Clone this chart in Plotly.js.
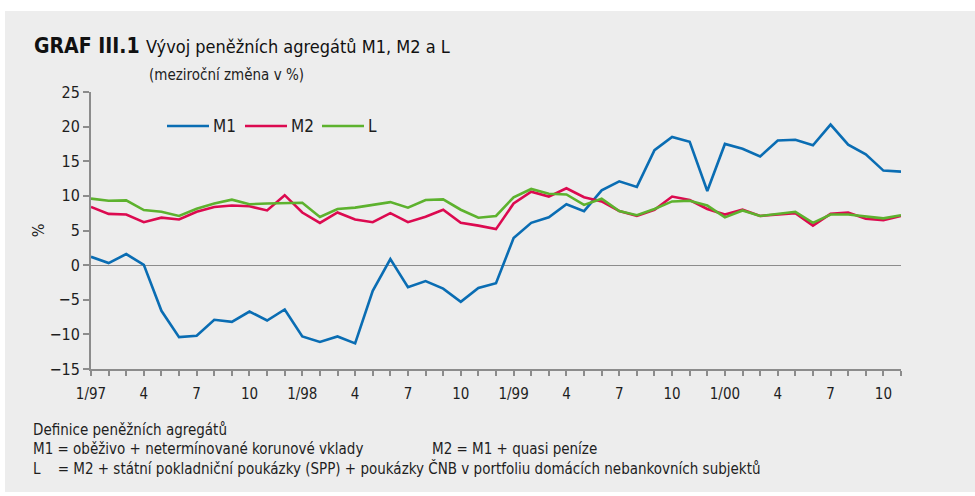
<!DOCTYPE html>
<html>
<head>
<meta charset="utf-8">
<script src="https://cdn.plot.ly/plotly-3.0.1.min.js"></script>
<style>
html,body{margin:0;padding:0;background:#fff;}
#chart{width:975px;height:496px;}
</style>
</head>
<body>
<div id="chart"></div>
<script>
const months = ['1/97','2/97','3/97','4/97','5/97','6/97','7/97','8/97','9/97','10/97','11/97','12/97',
  '1/98','2/98','3/98','4/98','5/98','6/98','7/98','8/98','9/98','10/98','11/98','12/98',
  '1/99','2/99','3/99','4/99','5/99','6/99','7/99','8/99','9/99','10/99','11/99','12/99',
  '1/00','2/00','3/00','4/00','5/00','6/00','7/00','8/00','9/00','10/00','11/00'];
const tickLabels = ['1/97','','','4','','','7','','','10','','',
  '1/98','','','4','','','7','','','10','','',
  '1/99','','','4','','','7','','','10','','',
  '1/00','','','4','','','7','','','10',''];
const m1 = [1.2,0.3,1.6,0.05,-6.6,-10.4,-10.2,-7.9,-8.2,-6.7,-8.0,-6.4,
  -10.3,-11.1,-10.3,-11.3,-3.7,0.87,-3.2,-2.3,-3.4,-5.3,-3.3,-2.6,
  3.9,6.1,6.9,8.8,7.8,10.8,12.1,11.3,16.6,18.5,17.8,10.7,
  17.5,16.8,15.7,18.0,18.1,17.3,20.3,17.4,16.0,13.65,13.5];
const m2 = [8.4,7.4,7.3,6.2,6.85,6.6,7.7,8.4,8.6,8.5,7.9,10.1,
  7.6,6.1,7.6,6.6,6.2,7.5,6.2,7.0,8.0,6.1,5.7,5.2,
  8.9,10.6,9.9,11.1,9.8,9.2,7.8,7.1,8.0,9.9,9.4,8.1,
  7.3,8.0,7.1,7.3,7.5,5.7,7.4,7.6,6.7,6.5,7.1];
const lAgg = [9.6,9.3,9.35,7.95,7.7,7.1,8.15,8.9,9.45,8.8,8.9,9.0,
  9.0,6.95,8.1,8.3,8.7,9.1,8.3,9.4,9.5,8.0,6.85,7.1,
  9.8,11.0,10.3,10.2,8.7,9.6,7.8,7.2,8.1,9.2,9.3,8.6,
  6.9,7.9,7.1,7.4,7.7,6.1,7.3,7.3,7.0,6.75,7.2];
const seriesNames = ['M1','M2','L'];
const seriesColors = ['#0a6db3','#dc0a50','#5db22e'];

const W = 975, H = 496;
const M = {l:91, r:74, t:92, b:127};
const pw = W - M.l - M.r, ph = H - M.t - M.b;
const px = x => (x - M.l) / pw;
const py = y => (H - M.b - y) / ph;

const FONT = '"DejaVu Sans Condensed", "DejaVu Sans", sans-serif';
const TXT = '#1e1e1e';

const data = [m1, m2, lAgg].map((v, i) => ({
  type: 'scatter', mode: 'lines', x: months, y: v, name: seriesNames[i],
  line: {color: seriesColors[i], width: 2.6}, showlegend: false, cliponaxis: false
}));

const shapes = [
  {type:'rect', xref:'paper', yref:'paper', x0:px(5), x1:px(975), y0:py(492), y1:py(11),
   fillcolor:'#ededed', line:{width:0}, layer:'below'}
];
const annotations = [
  {xref:'paper', yref:'paper', x:px(32), y:py(46), xanchor:'left', yanchor:'middle', showarrow:false,
   text:'<b>GRAF III.1</b>', font:{family:FONT, size:21, color:'#111'}},
  {xref:'paper', yref:'paper', x:px(144), y:py(46), xanchor:'left', yanchor:'middle', showarrow:false,
   text:'Vývoj peněžních agregátů M1, M2 a L', font:{family:FONT, size:18, color:'#111'}},
  {xref:'paper', yref:'paper', x:px(147), y:py(75), xanchor:'left', yanchor:'middle', showarrow:false,
   text:'(meziroční změna v %)', font:{family:FONT, size:15, color:TXT}},
  {xref:'paper', yref:'paper', x:px(31), y:py(430), xanchor:'left', yanchor:'middle', showarrow:false,
   text:'Definice peněžních agregátů', font:{family:FONT, size:15, color:TXT}},
  {xref:'paper', yref:'paper', x:px(31), y:py(449), xanchor:'left', yanchor:'middle', showarrow:false,
   text:'M1 = oběživo + netermínované korunové vklady', font:{family:FONT, size:15, color:TXT}},
  {xref:'paper', yref:'paper', x:px(430), y:py(449), xanchor:'left', yanchor:'middle', showarrow:false,
   text:'M2 = M1 + quasi peníze', font:{family:FONT, size:15, color:TXT}},
  {xref:'paper', yref:'paper', x:px(31), y:py(468), xanchor:'left', yanchor:'middle', showarrow:false,
   text:'L&nbsp;&nbsp;&nbsp;&nbsp;= M2 + státní pokladniční poukázky (SPP) + poukázky ČNB v portfoliu domácích nebankovních subjektů',
   font:{family:FONT, size:15, color:TXT}}
];
// manual legend
const legX = [167, 245, 322];
seriesNames.forEach((n, i) => {
  shapes.push({type:'line', xref:'paper', yref:'paper', x0:px(legX[i]), x1:px(legX[i]+42),
    y0:py(126), y1:py(126), line:{color:seriesColors[i], width:2.6}});
  annotations.push({xref:'paper', yref:'paper', x:px(legX[i]+44), y:py(126), xanchor:'left', yanchor:'middle',
    showarrow:false, text:n, font:{family:FONT, size:17, color:TXT}});
});

const layout = {
  width: W, height: H, margin: M,
  paper_bgcolor:'#ffffff', plot_bgcolor:'rgba(0,0,0,0)',
  font:{family:FONT, color:TXT},
  showlegend:false,
  xaxis:{type:'category', range:[0, months.length-1], tickmode:'array', tickvals:months, ticktext:tickLabels,
    ticks:'outside', ticklen:5, tickwidth:2, tickcolor:'#8c8c8c', showline:true, linecolor:'#8c8c8c', linewidth:2,
    showgrid:false, zeroline:false, tickfont:{family:FONT, size:15, color:TXT}, tickangle:0, ticklabelstandoff:5},
  yaxis:{range:[-15,25], dtick:5, tick0:0, ticks:'outside', ticklen:6, tickwidth:2, tickcolor:'#8c8c8c',
    showline:true, linecolor:'#8c8c8c', linewidth:2, showgrid:false,
    zeroline:true, zerolinecolor:'#8c8c8c', zerolinewidth:1.2,
    tickfont:{family:FONT, size:16, color:TXT},
    title:{text:'%', font:{family:FONT, size:16, color:TXT}, standoff:1}},
  shapes, annotations
};
Plotly.newPlot('chart', data, layout, {displayModeBar:false, staticPlot:true});
</script>
</body>
</html>
